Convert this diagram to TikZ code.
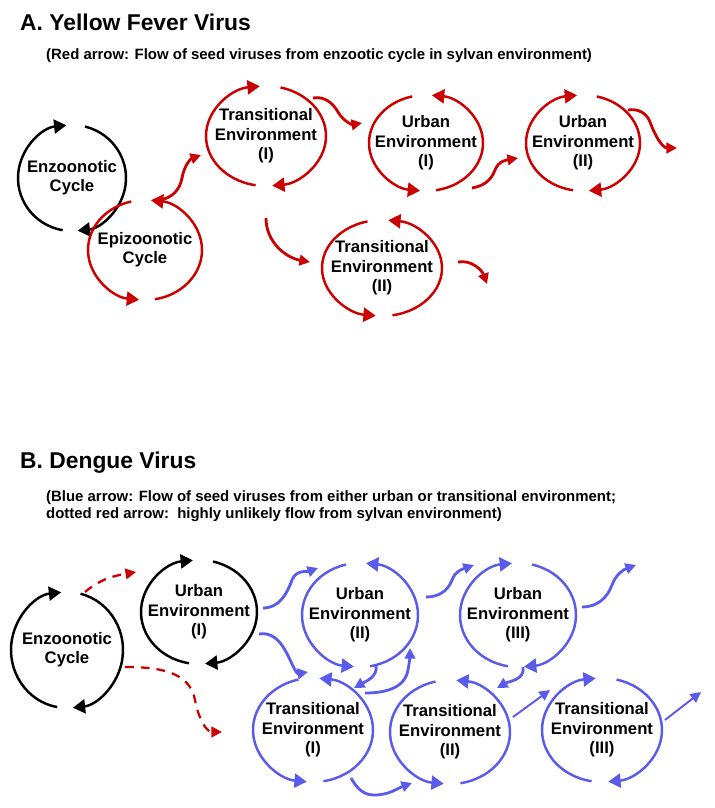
\documentclass[tikz,border=0pt]{standalone}
\usepackage{fontspec}
\setmainfont{Liberation Sans}
\usetikzlibrary{arrows.meta}
\definecolor{red1}{RGB}{204,0,0}
\definecolor{blue1}{RGB}{90,90,235}
\tikzset{
	cyc/.style={line width=1.4pt,-{Triangle[length=7pt,width=8pt]}},
	flow/.style={line width=1.6pt,-{Triangle[length=6pt,width=6pt]}},
	dflow/.style={flow,red1,line width=1.3pt,dash pattern=on 5pt off 4pt},
	lab/.style={align=center,font=\bfseries\fontsize{9.5}{11}\selectfont},
}
% clockwise / counter-clockwise cycle around a named centre
\newcommand\cwcyc[4]{%
	\draw[cyc,#4] (#1)+(100:#2 and #3) arc[start angle=100,end angle=264,x radius=#2,y radius=#3];
	\draw[cyc,#4] (#1)+(284:#2 and #3) arc[start angle=284,end angle=444,x radius=#2,y radius=#3];}
\newcommand\ccwcyc[4]{%
	\draw[cyc,#4] (#1)+(256:#2 and #3) arc[start angle=256,end angle=96,x radius=#2,y radius=#3];
	\draw[cyc,#4] (#1)+(440:#2 and #3) arc[start angle=440,end angle=276,x radius=#2,y radius=#3];}

\begin{document}
\begin{tikzpicture}[x=0.02cm,y=-0.02cm]

	\useasboundingbox (0,0) rectangle (714,808);

	%%% Part A
	\node[anchor=west,font=\bfseries\fontsize{13}{15}\selectfont] (titA) at (14,22) {A. Yellow Fever Virus};
	\node[anchor=west,font=\bfseries\fontsize{8.5}{10}\selectfont] (subA) at (40,56) {(Red arrow: Flow of seed viruses from enzootic cycle in sylvan environment)};

	\node[lab] (enzA) at (72,178) {Enzoonotic\\Cycle};
	\node[lab] (epiA) at (145,250) {Epizoonotic\\Cycle};
	\node[lab] (trA1) at (266,136) {Transitional\\Environment\\(I)};
	\node[lab] (urA1) at (426,143) {Urban\\Environment\\(I)};
	\node[lab] (urA2) at (583,143) {Urban\\Environment\\(II)};
	\node[lab] (trA2) at (382,268) {Transitional\\Environment\\(II)};

	\cwcyc{enzA}{54}{53}{black}
	\ccwcyc{epiA}{57}{50}{red1}
	\cwcyc{trA1}{60}{50}{red1}
	\ccwcyc{urA1}{57}{48}{red1}
	\cwcyc{urA2}{57}{48}{red1}
	\ccwcyc{trA2}{60}{48}{red1}

	%%% Red flows
	\draw[flow,red1] (160,200) to[out=10,in=-100] (182,178) to[out=80,in=200] (201,155);
	\draw[flow,red1] (313,98) to[out=10,in=120] (338,112) to[out=-60,in=190] (362,123);
	\draw[flow,red1] (266,218) to[out=-90,in=170] (310,262);
	\draw[flow,red1] (472,188) to[out=10,in=-110] (495,170) to[out=70,in=190] (518,158);
	\draw[flow,red1] (628,110) to[out=10,in=110] (650,122) to[out=-70,in=180] (677,148);
	\draw[flow,red1] (458,262) to[out=10,in=110] (487,284);

	%%% Part B
	\node[anchor=west,font=\bfseries\fontsize{13}{15}\selectfont] (titB) at (14,463) {B. Dengue Virus};
	\node[anchor=west,align=left,font=\bfseries\fontsize{8.5}{10}\selectfont] (subB) at (40,506) {(Blue arrow: Flow of seed viruses from either urban or transitional environment;\\dotted red arrow:\ \ highly unlikely flow from sylvan environment)};

	\node[lab] (enzB) at (67,650) {Enzoonotic\\Cycle};
	\node[lab] (urB1) at (199,612) {Urban\\Environment\\(I)};
	\node[lab] (urB2) at (360,615) {Urban\\Environment\\(II)};
	\node[lab] (urB3) at (518,615) {Urban\\Environment\\(III)};
	\node[lab] (trB1) at (313,730) {Transitional\\Environment\\(I)};
	\node[lab] (trB2) at (450,732) {Transitional\\Environment\\(II)};
	\node[lab] (trB3) at (602,730) {Transitional\\Environment\\(III)};

	\cwcyc{enzB}{56}{58}{black}
	\cwcyc{urB1}{58}{52}{black}
	\ccwcyc{urB2}{58}{52}{blue1}
	\cwcyc{urB3}{58}{52}{blue1}
	\ccwcyc{trB1}{60}{52}{blue1}
	\ccwcyc{trB2}{60}{52}{blue1}
	\cwcyc{trB3}{60}{52}{blue1}

	%%% Dotted red flows
	\draw[dflow] (enzB)+(18,-58) to[out=40,in=190] (136,572);
	\draw[dflow] (enzB)+(58,17) to[out=0,in=100] (195,700) to[out=-80,in=180] (222,732);

	%%% Blue flows
	\draw[flow,blue1] (urB1)+(64,-4) to[out=0,in=-110] (292,580) to[out=70,in=200] (318,568);
	\draw[flow,blue1] (urB1)+(60,22) to[out=10,in=120] (285,650) to[out=-60,in=190] (308,672);
	\draw[flow,blue1] (trB1)+(52,-37) to[out=0,in=-100] (408,670) to[out=80,in=-90] (410,648);
	\draw[flow,blue1] (urB2)+(16,50) to[out=-80,in=30] (354,688);
	\draw[flow,blue1] (urB2)+(66,-18) to[out=0,in=-110] (452,580) to[out=70,in=200] (474,565);
	\draw[flow,blue1] (urB3)+(64,-8) to[out=0,in=-110] (612,585) to[out=70,in=200] (636,565);
	\draw[flow,blue1] (urB3)+(5,52) to[out=-80,in=30] (497,688);
	\draw[flow,blue1] (trB1)+(38,48) to[out=-60,in=180] (374,795) to[out=0,in=200] (412,783);
	\draw[flow,blue1,line width=1.1pt] (trB2)+(63,-15) -- (550,690);
	\draw[flow,blue1,line width=1.1pt] (trB3)+(63,-10) -- (701,692);

\end{tikzpicture}
\end{document}
